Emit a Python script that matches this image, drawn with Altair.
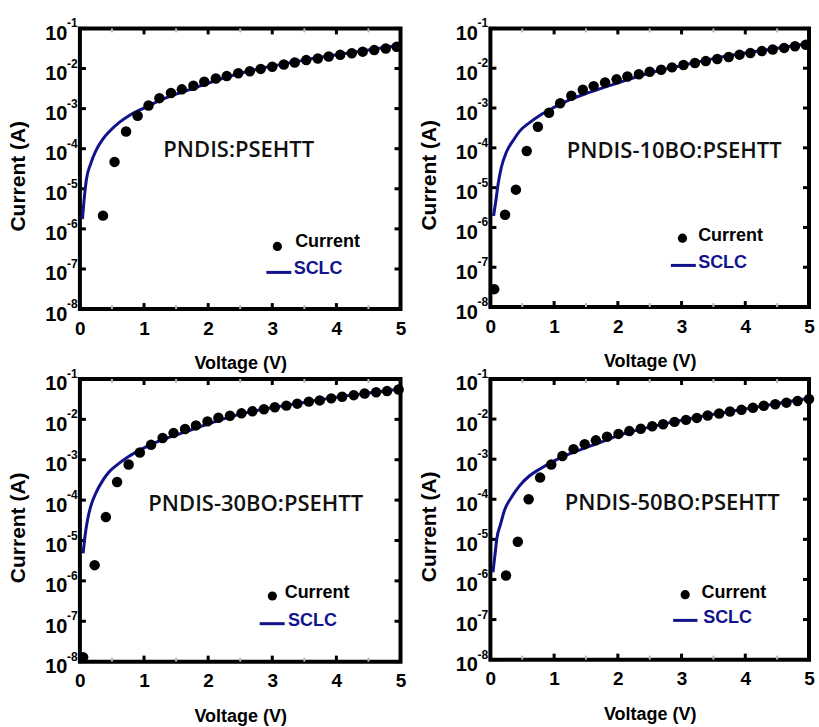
import altair as alt
import pandas as pd

NAVY = "#12128c"
FONT = "Liberation Sans"

# ---------------- data ----------------
# Panel 1: PNDIS:PSEHTT
V1 = [0.36, 0.54, 0.72, 0.90, 1.07, 1.24, 1.42, 1.59, 1.77, 1.94, 2.12, 2.29, 2.47, 2.65,
      2.82, 3.00, 3.18, 3.35, 3.53, 3.71, 3.88, 4.06, 4.24, 4.41, 4.59, 4.77, 4.94]
I1 = [2.14e-6, 4.68e-5, 2.69e-4, 6.61e-4, 1.20e-3, 1.82e-3, 2.45e-3, 3.02e-3, 3.72e-3,
      4.68e-3, 5.62e-3, 6.46e-3, 7.59e-3, 8.51e-3, 9.77e-3, 1.11e-2, 1.26e-2, 1.41e-2,
      1.62e-2, 1.78e-2, 2.00e-2, 2.19e-2, 2.40e-2, 2.63e-2, 2.88e-2, 3.16e-2, 3.47e-2]
VS1 = [0.04, 0.07, 0.10, 0.17, 0.25, 0.355, 0.46, 0.61, 0.77, 0.98, 1.24, 1.50, 1.76, 1.97,
       2.5, 3.0, 3.5, 4.0, 4.5, 5.0]
IS1 = [1.74e-6, 6.3e-6, 1.66e-5, 4.27e-5, 8.91e-5, 1.70e-4, 2.69e-4, 4.47e-4, 6.76e-4,
       1.00e-3, 1.58e-3, 2.29e-3, 3.16e-3, 4.17e-3, 7.59e-3, 1.15e-2, 1.62e-2, 2.19e-2,
       2.88e-2, 3.85e-2]

# Panel 2: PNDIS-10BO:PSEHTT
V2 = [0.06, 0.23, 0.40, 0.57, 0.745, 0.92, 1.095, 1.27, 1.45, 1.62, 1.80, 1.98, 2.15, 2.33,
      2.50, 2.68, 2.85, 3.03, 3.21, 3.38, 3.56, 3.74, 3.91, 4.08, 4.26, 4.43, 4.61, 4.78, 4.95]
I2 = [2.82e-8, 2.09e-6, 8.91e-6, 8.32e-5, 3.39e-4, 7.59e-4, 1.32e-3, 2.04e-3, 2.88e-3,
      3.55e-3, 4.37e-3, 5.25e-3, 6.17e-3, 7.08e-3, 8.13e-3, 9.12e-3, 1.05e-2, 1.20e-2,
      1.35e-2, 1.51e-2, 1.70e-2, 1.91e-2, 2.19e-2, 2.40e-2, 2.69e-2, 2.95e-2, 3.24e-2,
      3.55e-2, 3.89e-2]
VS2 = [0.05, 0.084, 0.12, 0.17, 0.25, 0.36, 0.46, 0.62, 0.78, 0.99, 1.25, 1.51, 1.77, 1.98,
       2.5, 3.0, 3.5, 4.0, 4.5, 5.0]
IS2 = [1.95e-6, 4.47e-6, 1.20e-5, 3.16e-5, 7.76e-5, 1.55e-4, 2.63e-4, 4.37e-4, 6.61e-4,
       1.02e-3, 1.62e-3, 2.34e-3, 3.24e-3, 4.17e-3, 7.59e-3, 1.17e-2, 1.74e-2, 2.40e-2,
       3.16e-2, 4.17e-2]

# Panel 3: PNDIS-30BO:PSEHTT
V3 = [0.05, 0.23, 0.405, 0.58, 0.76, 0.935, 1.11, 1.29, 1.46, 1.64, 1.81, 1.99, 2.16, 2.34,
      2.52, 2.69, 2.87, 3.04, 3.22, 3.39, 3.57, 3.74, 3.92, 4.09, 4.27, 4.44, 4.62, 4.79, 4.97]
I3 = [1.29e-8, 2.45e-6, 3.80e-5, 2.82e-4, 7.59e-4, 1.51e-3, 2.34e-3, 3.47e-3, 4.57e-3,
      5.75e-3, 7.08e-3, 8.91e-3, 1.10e-2, 1.23e-2, 1.41e-2, 1.58e-2, 1.78e-2, 2.00e-2,
      2.19e-2, 2.45e-2, 2.75e-2, 2.95e-2, 3.31e-2, 3.63e-2, 3.98e-2, 4.37e-2, 4.68e-2,
      5.01e-2, 5.50e-2]
VS3 = [0.05, 0.08, 0.12, 0.17, 0.25, 0.35, 0.45, 0.61, 0.76, 0.97, 1.23, 1.49, 1.75, 1.95,
       2.5, 3.0, 3.5, 4.0, 4.5, 5.0]
IS3 = [4.79e-6, 1.29e-5, 3.31e-5, 7.08e-5, 1.51e-4, 2.95e-4, 4.90e-4, 8.13e-4, 1.20e-3,
       1.86e-3, 2.88e-3, 4.07e-3, 5.62e-3, 7.24e-3, 1.35e-2, 1.95e-2, 2.63e-2, 3.55e-2,
       4.47e-2, 5.62e-2]

# Panel 4: PNDIS-50BO:PSEHTT
V4 = [0.245, 0.43, 0.60, 0.78, 0.955, 1.13, 1.305, 1.48, 1.655, 1.83, 2.01, 2.18, 2.36, 2.54,
      2.71, 2.89, 3.07, 3.24, 3.41, 3.59, 3.76, 3.94, 4.12, 4.29, 4.47, 4.645, 4.82, 5.0]
I4 = [1.26e-6, 8.71e-6, 1.00e-4, 3.47e-4, 7.33e-4, 1.20e-3, 1.78e-3, 2.37e-3, 2.95e-3,
      3.63e-3, 4.27e-3, 5.01e-3, 5.75e-3, 6.61e-3, 7.41e-3, 8.51e-3, 9.55e-3, 1.07e-2,
      1.23e-2, 1.38e-2, 1.55e-2, 1.70e-2, 1.91e-2, 2.14e-2, 2.34e-2, 2.57e-2, 2.82e-2, 3.16e-2]
VS4 = [0.04, 0.07, 0.10, 0.16, 0.22, 0.33, 0.46, 0.61, 0.77, 0.98, 1.24, 1.50, 1.76, 1.97,
       2.5, 3.0, 3.5, 4.0, 4.5, 5.0]
IS4 = [1.51e-6, 3.89e-6, 1.02e-5, 2.40e-5, 5.25e-5, 1.12e-4, 2.19e-4, 3.80e-4, 5.62e-4,
       8.71e-4, 1.35e-3, 1.95e-3, 2.75e-3, 3.72e-3, 6.31e-3, 9.33e-3, 1.32e-2, 1.78e-2,
       2.45e-2, 3.31e-2]

LABELS = ["PNDIS:PSEHTT", "PNDIS-10BO:PSEHTT", "PNDIS-30BO:PSEHTT", "PNDIS-50BO:PSEHTT"]
LEGEND_NAMES = ["Current", "SCLC"]
DECADES = [1e-8, 1e-7, 1e-6, 1e-5, 1e-4, 1e-3, 1e-2, 1e-1]
EXPONENTS = ["-8", "-7", "-6", "-5", "-4", "-3", "-2", "-1"]
VOLT_TICKS = [0, 1, 2, 3, 4, 5]
MINOR_V = [0.5, 1.5, 2.5, 3.5, 4.5]


def panel(V, I, VS, IS, label, w, h, lab, leg):
    xsc = alt.Scale(domain=[0, 5], nice=False, zero=False)
    ysc = alt.Scale(type="log", domain=[1e-8, 1e-1], nice=False)
    xax = alt.Axis(values=VOLT_TICKS, title="Voltage (V)", grid=False, ticks=False, tickSize=0,
                   domain=False, labelFont=FONT, labelFontSize=19, labelFontWeight="bold",
                   labelColor="black", labelPadding=10, labelFlush=False, labelOverlap=False,
                   titleFont=FONT, titleFontSize=18, titleFontWeight="bold", titleColor="black",
                   titleBaseline="top", titleY=46)
    yax = alt.Axis(values=DECADES, labelExpr="'10'", title="Current (A)", grid=False,
                   ticks=False, tickSize=0, domain=False, labelFont=FONT, labelFontSize=20,
                   labelFontWeight="bold", labelColor="black", labelPadding=13, labelOffset=5,
                   labelBaseline="middle", labelFlush=False, labelOverlap=False,
                   titleFont=FONT, titleFontSize=21, titleFontWeight="bold", titleColor="black",
                   titleX=-55, titleY=h / 2 + 7, titleBaseline="alphabetic", titleAlign="center")
    X = alt.X("V:Q", scale=xsc, axis=xax)
    Y = alt.Y("I:Q", scale=ysc, axis=yax)

    dec = pd.DataFrame({"I": DECADES, "e": EXPONENTS})
    volt = pd.DataFrame({"V": VOLT_TICKS})
    minor = pd.DataFrame({"V": MINOR_V})

    layers = [
        alt.Chart(dec).mark_rule(color="black", strokeWidth=3).encode(
            y=Y, x=alt.value(0), x2=alt.value(6)),
        alt.Chart(dec).mark_rule(color="black", strokeWidth=3).encode(
            y=Y, x=alt.value(w - 6), x2=alt.value(w)),
        alt.Chart(volt).mark_rule(color="black", strokeWidth=3).encode(
            x=X, y=alt.value(h - 6), y2=alt.value(h)),
        alt.Chart(volt).mark_rule(color="black", strokeWidth=3).encode(
            x=X, y=alt.value(0), y2=alt.value(6)),
        alt.Chart(minor).mark_rule(color="#b8b8b8", strokeWidth=2).encode(
            x=X, y=alt.value(h - 4), y2=alt.value(h)),
        alt.Chart(minor).mark_rule(color="#b8b8b8", strokeWidth=2).encode(
            x=X, y=alt.value(0), y2=alt.value(4)),
        alt.Chart(pd.DataFrame({"V": VS, "I": IS})).mark_line(
            color=NAVY, strokeWidth=3, interpolate="monotone").encode(x=X, y=Y),
        alt.Chart(pd.DataFrame({"V": V, "I": I})).mark_circle(
            size=110, color="black", opacity=1).encode(x=X, y=Y),
        alt.Chart(dec).mark_text(align="left", baseline="middle", dy=-5, font=FONT,
                                 fontSize=12, fontWeight="bold", color="black").encode(
            x=alt.value(-13), y=Y, text="e:N"),
        alt.Chart(pd.DataFrame({"t": [label]})).mark_text(
            font="Open Sans", fontWeight=600, fontSize=22, align="center",
            baseline="middle", color="#111111").encode(
            x=alt.value(lab[0]), y=alt.value(lab[1]), text="t:N"),
        alt.Chart(pd.DataFrame({"t": [LEGEND_NAMES[0]]})).mark_circle(
            size=85, color="black", opacity=1).encode(
            x=alt.value(leg[0]), y=alt.value(leg[1])),
        alt.Chart(pd.DataFrame({"t": [LEGEND_NAMES[0]]})).mark_text(
            font=FONT, fontWeight="bold", fontSize=18, align="left", baseline="middle",
            color="black").encode(x=alt.value(leg[2]), y=alt.value(leg[3]), text="t:N"),
        alt.Chart(pd.DataFrame({"t": [LEGEND_NAMES[1]]})).mark_rule(
            color=NAVY, strokeWidth=3).encode(
            x=alt.value(leg[4]), x2=alt.value(leg[5]), y=alt.value(leg[6])),
        alt.Chart(pd.DataFrame({"t": [LEGEND_NAMES[1]]})).mark_text(
            font=FONT, fontWeight="bold", fontSize=18, align="left", baseline="middle",
            color=NAVY).encode(x=alt.value(leg[7]), y=alt.value(leg[8]), text="t:N"),
    ]
    return alt.layer(*layers).properties(width=w, height=h)


p1 = panel(V1, I1, VS1, IS1, LABELS[0], 321, 281, (159, 121.5),
           (197.7, 218.3, 215.5, 214, 186.7, 211.7, 244.3, 214, 241))
p2 = panel(V2, I2, VS2, IS2, LABELS[1], 319, 279, (184, 122.5),
           (192.3, 210, 208, 208.3, 180.7, 205.7, 237.3, 208, 235))
p3 = panel(V3, I3, VS3, IS3, LABELS[2], 321, 283, (176, 125),
           (192.7, 217.3, 205, 214, 180, 205, 245, 208.3, 242.3))
p4 = panel(V4, I4, VS4, IS4, LABELS[3], 319, 281, (182, 124),
           (195, 216, 211.3, 214, 183, 207.3, 241.7, 213, 239.3))

chart = alt.concat(p1, p2, p3, p4, columns=2, spacing={"row": 70, "column": 90},
                   bounds="flush").properties(
    padding={"left": 6, "top": 15, "right": 2, "bottom": 0},
    background="white",
).configure_view(stroke="black", strokeWidth=4)

chart.save("out.html", embed_options={"renderer": "svg", "actions": False})
